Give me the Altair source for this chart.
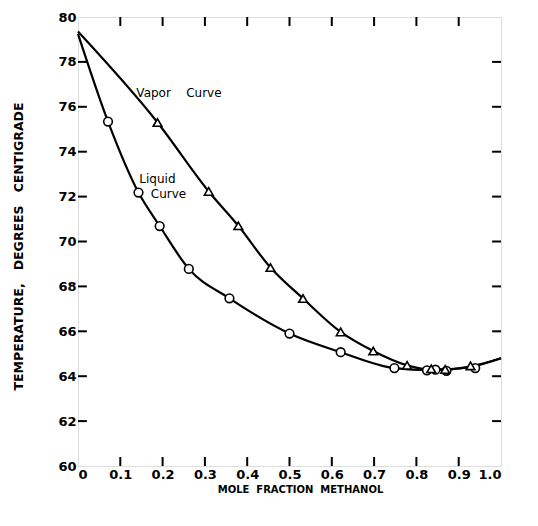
import altair as alt
import pandas as pd

NB = "\u00a0"

# measured points
liquid_x = [0.071, 0.143, 0.193, 0.262, 0.358, 0.5, 0.621, 0.748, 0.825, 0.845, 0.871, 0.939]
liquid_y = [75.34, 72.18, 70.69, 68.78, 67.47, 65.9, 65.07, 64.36, 64.26, 64.29, 64.24, 64.36]
vapor_x = [0.188, 0.309, 0.379, 0.455, 0.532, 0.621, 0.698, 0.778, 0.835, 0.868, 0.928]
vapor_y = [75.3, 72.23, 70.70, 68.84, 67.46, 65.97, 65.12, 64.48, 64.33, 64.3, 64.46]

# drawn curves
liquid_curve_x = [0, 0.071, 0.143, 0.193, 0.262, 0.358, 0.5, 0.621, 0.748, 0.83, 0.87, 0.93, 1.0]
liquid_curve_y = [79.25, 75.34, 72.18, 70.69, 68.78, 67.47, 65.9, 65.07, 64.36, 64.27, 64.3, 64.42, 64.8]
vapor_curve_x = [0, 0.188, 0.309, 0.379, 0.455, 0.532, 0.621, 0.698, 0.778, 0.83, 0.87, 0.93, 1.0]
vapor_curve_y = [79.35, 75.3, 72.23, 70.70, 68.84, 67.46, 65.97, 65.12, 64.48, 64.3, 64.3, 64.44, 64.8]

# axis ticks
x_ticks = [0, 0.1, 0.2, 0.3, 0.4, 0.5, 0.6, 0.7, 0.8, 0.9, 1.0]
y_ticks = [60, 62, 64, 66, 68, 70, 72, 74, 76, 78, 80]
x_inner = [0.1, 0.2, 0.3, 0.4, 0.5, 0.6, 0.7, 0.8, 0.9]
y_inner = [62, 64, 66, 68, 70, 72, 74, 76, 78]

# annotations
ann_text = ["Vapor" + NB * 4 + "Curve", "Liquid", "Curve"]
ann_x = [0.138, 0.145, 0.172]
ann_y = [76.6, 72.8, 72.1]

x_title = "MOLE" + NB * 2 + "FRACTION" + NB * 2 + "METHANOL"
y_title = "TEMPERATURE," + NB * 3 + "DEGREES" + NB * 3 + "CENTIGRADE"

curves = pd.concat([
    pd.DataFrame({"x": liquid_curve_x, "y": liquid_curve_y, "s": "Liquid"}),
    pd.DataFrame({"x": vapor_curve_x, "y": vapor_curve_y, "s": "Vapor"}),
])
liq = pd.DataFrame({"x": liquid_x, "y": liquid_y})
vap = pd.DataFrame({"x": vapor_x, "y": vapor_y})
ann = pd.DataFrame({"t": ann_text, "x": ann_x, "y": ann_y})
xt = pd.DataFrame({"v": x_inner})
yt = pd.DataFrame({"v": y_inner})

FONT = "DejaVu Sans"
W, H = 423, 449
xs = alt.Scale(domain=[0, 1], nice=False, zero=False)
ys = alt.Scale(domain=[60, 80], nice=False, zero=False)

xaxis = alt.Axis(values=x_ticks, labelExpr="datum.value == 0 ? '0' : format(datum.value, '.1f')",
                 ticks=False, domain=False, grid=False, labelFont=FONT, labelFontSize=13,
                 labelFontWeight="bold", labelColor="black", labelPadding=2,
                 title=x_title, titleFont=FONT, titleFontSize=10,
                 titleFontWeight="bold", titleColor="black", titleX=222, titleY=23,
                 titleAlign="center", titleBaseline="middle")
yaxis = alt.Axis(values=y_ticks, ticks=False, domain=False, grid=False, labelFont=FONT,
                 labelFontSize=13, labelFontWeight="bold", labelColor="black", labelPadding=2,
                 title=y_title, titleFont=FONT, titleFontSize=12.5,
                 titleFontWeight="bold", titleColor="black", titleX=-60, titleY=229,
                 titleAngle=270, titleAlign="center", titleBaseline="middle")

lines = alt.Chart(curves).mark_line(interpolate="monotone", color="black", strokeWidth=2.2).encode(
    x=alt.X("x:Q", scale=xs, axis=xaxis),
    y=alt.Y("y:Q", scale=ys, axis=yaxis),
    detail="s:N",
)
circles = alt.Chart(liq).mark_point(shape="circle", filled=False, size=75, color="black",
                                    strokeWidth=1.6, fill="white", fillOpacity=1).encode(
    x=alt.X("x:Q", scale=xs), y=alt.Y("y:Q", scale=ys))
tris = alt.Chart(vap).mark_point(shape="triangle-up", filled=False, size=75, color="black",
                                 strokeWidth=1.6, fill="white", fillOpacity=1).encode(
    x=alt.X("x:Q", scale=xs), y=alt.Y("y:Q", scale=ys))
texts = alt.Chart(ann).mark_text(align="left", baseline="middle", font=FONT, fontSize=12,
                                 color="black").encode(
    x=alt.X("x:Q", scale=xs), y=alt.Y("y:Q", scale=ys), text="t:N")

TK = 0.4   # tick length in degrees (~9 px)
TX = 0.021
bottom = alt.Chart(xt).mark_rule(color="black", strokeWidth=2).encode(
    x=alt.X("v:Q", scale=xs), y=alt.datum(60), y2=alt.datum(60 + TK))
top = alt.Chart(xt).mark_rule(color="black", strokeWidth=2).encode(
    x=alt.X("v:Q", scale=xs), y=alt.datum(80), y2=alt.datum(80 - TK))
left = alt.Chart(yt).mark_rule(color="black", strokeWidth=2).encode(
    y=alt.Y("v:Q", scale=ys), x=alt.datum(0), x2=alt.datum(TX))
right = alt.Chart(yt).mark_rule(color="black", strokeWidth=2).encode(
    y=alt.Y("v:Q", scale=ys), x=alt.datum(1), x2=alt.datum(1 - TX))

chart = alt.layer(lines, bottom, top, left, right, circles, tris, texts).properties(
    width=W, height=H,
    autosize=alt.AutoSizeParams(type="none"),
    padding={"left": 70, "top": 9, "right": 29, "bottom": 50},
).configure_view(stroke="black", strokeWidth=2).configure(background="white")

chart.save("out.html", embed_options={"renderer": "svg", "actions": False})
